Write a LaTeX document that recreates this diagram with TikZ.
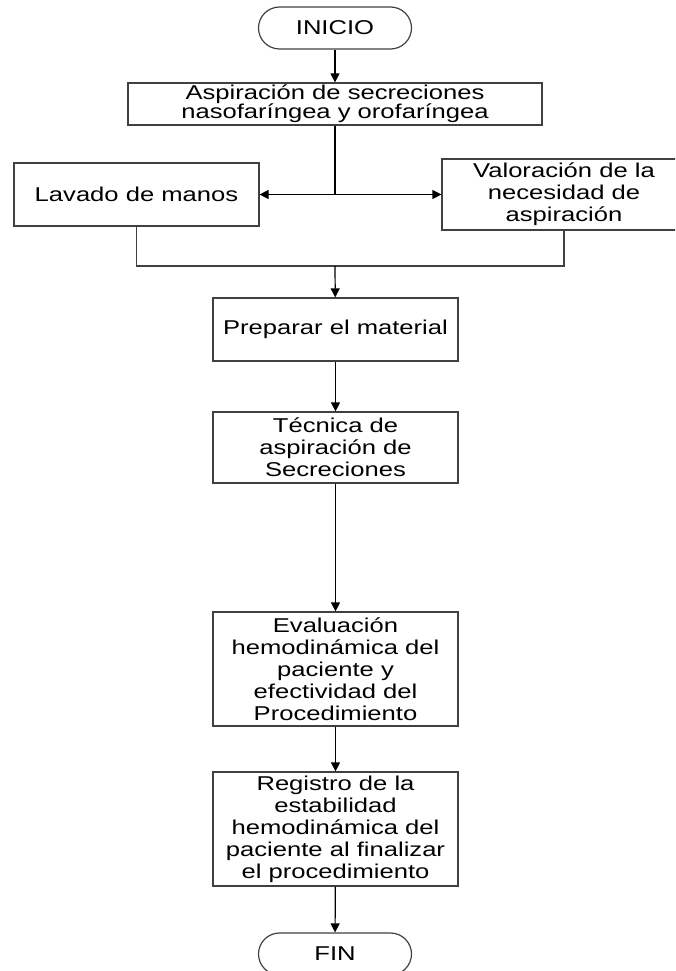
\documentclass[tikz,border=0pt]{standalone}
\usepackage{fontspec}
\setmainfont{Liberation Sans}[FakeStretch=1.28]
\usetikzlibrary{arrows.meta}

\tikzset{
  proc/.style={draw=black!75, line width=1.2pt, align=center, inner sep=0pt,
    minimum width=245pt, minimum height=63pt, font=\fontsize{20}{22}\selectfont},
  term/.style={draw=black!75, line width=1.2pt, rounded corners=21pt, inner sep=0pt,
    minimum width=153pt, minimum height=42pt, font=\fontsize{20}{22}\selectfont},
  flow/.style={line width=1.2pt, -{Triangle[length=9pt,width=9pt]}},
  link/.style={line width=1.2pt, draw=black!75},
}

\begin{document}
\begin{tikzpicture}[x=1pt,y=-1pt]
\path[use as bounding box, clip] (0,0) rectangle (675,971);

\node[term] (inicio) at (335,28) {INICIO};
\node[proc, minimum width=414pt, minimum height=42pt, font=\fontsize{20}{19}\selectfont] (aspir) at (335,104) {Aspiración de secreciones\\nasofaríngea y orofaríngea};
\node[proc] (lavado) at (136.5,194.5) {Lavado de manos};
\node[proc, minimum width=244pt, minimum height=71pt] (valor) at (564,194.5) {Valoración de la\\necesidad de\\aspiración};
\node[proc] (prep) at (335.5,329.5) {Preparar el material};
\node[proc, minimum height=71pt] (tecnica) at (335.5,447.5) {Técnica de\\aspiración de\\Secreciones};
\node[proc, minimum height=114pt] (eval) at (335.5,669) {Evaluación\\hemodinámica del\\paciente y\\efectividad del\\Procedimiento};
\node[proc, minimum height=114pt] (registro) at (335.5,829) {Registro de la\\estabilidad\\hemodinámica del\\paciente al finalizar\\el procedimiento};
\node[term] (fin) at (335,954) {FIN};

\coordinate (split) at (335,194.5);
\coordinate (join) at (335,266);

\draw[flow] (inicio) -- (aspir);
\draw[line width=1.2pt] (aspir.south) -- (split);
\draw[flow] (split) -- (lavado.east);
\draw[flow] (split) -- (valor.west);
\draw[link] (lavado.south) |- (join) -| (valor.south);
\draw[flow] (join) -- (prep);
\draw[flow] (prep) -- (tecnica);
\draw[flow] (tecnica) -- (eval);
\draw[flow] (eval) -- (registro);
\draw[flow] (registro) -- (fin);

\end{tikzpicture}
\end{document}
